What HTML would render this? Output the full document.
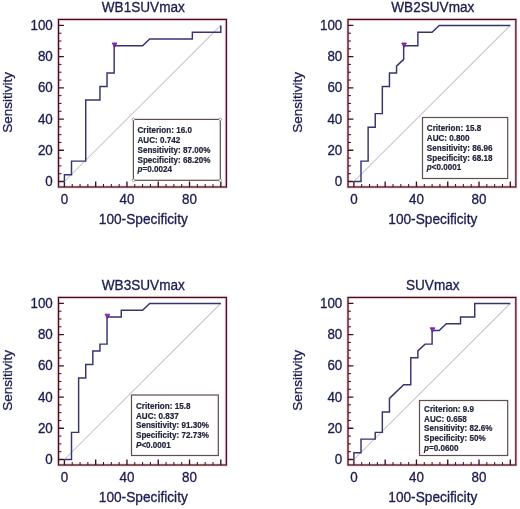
<!DOCTYPE html><html><head><meta charset="utf-8"><style>html,body{margin:0;padding:0;background:#fff;}svg{display:block;filter:blur(0.3px);}text{font-family:"Liberation Sans",sans-serif;}</style></head><body>
<svg width="520" height="509" viewBox="0 0 520 509">
<rect width="520" height="509" fill="#fff"/>
<g transform="translate(0,0)">
<rect x="58.5" y="19.45" width="167.85" height="167.55" fill="none" stroke="#f2d6dc" stroke-width="3.2"/>
<line x1="64.40" y1="181.50" x2="220.80" y2="25.40" stroke="#c2c2c8" stroke-width="1.05"/>
<path d="M58.50 181.50H63.90M64.40 187.00V181.60M58.50 150.28H63.90M95.68 187.00V181.60M58.50 119.06H63.90M126.96 187.00V181.60M58.50 87.84H63.90M158.24 187.00V181.60M58.50 56.62H63.90M189.52 187.00V181.60M58.50 25.40H63.90M220.80 187.00V181.60" stroke="#420e1c" stroke-width="1.35" fill="none"/>
<path d="M58.50 173.69H61.50M72.22 187.00V184.00M58.50 165.89H61.50M80.04 187.00V184.00M58.50 158.09H61.50M87.86 187.00V184.00M58.50 142.47H61.50M103.50 187.00V184.00M58.50 134.67H61.50M111.32 187.00V184.00M58.50 126.87H61.50M119.14 187.00V184.00M58.50 111.25H61.50M134.78 187.00V184.00M58.50 103.45H61.50M142.60 187.00V184.00M58.50 95.64H61.50M150.42 187.00V184.00M58.50 80.03H61.50M166.06 187.00V184.00M58.50 72.23H61.50M173.88 187.00V184.00M58.50 64.42H61.50M181.70 187.00V184.00M58.50 48.81H61.50M197.34 187.00V184.00M58.50 41.01H61.50M205.16 187.00V184.00M58.50 33.21H61.50M212.98 187.00V184.00" stroke="#420e1c" stroke-width="1.0" fill="none"/>
<rect x="58.5" y="19.45" width="167.85" height="167.55" fill="none" stroke="#420e1c" stroke-width="1.25"/>
</g>
<path d="M64.40 181.50 L64.40 174.71 L71.51 174.71 L71.51 161.14 L85.73 161.14 L85.73 100.06 L99.95 100.06 L99.95 86.48 L107.05 86.48 L107.05 72.91 L114.16 72.91 L114.16 45.76 L142.60 45.76 L149.71 38.97 L192.36 38.97 L192.36 32.19 L220.80 32.19 L220.80 25.40" stroke="#353370" stroke-width="1.45" fill="none" stroke-linejoin="miter"/>
<path d="M112.16 42.96H116.96L114.56 47.36Z" fill="#9a28d0" stroke="#5e1080" stroke-width="0.7" stroke-linejoin="round"/>
<rect x="133.4" y="119.4" width="86.90" height="60.90" fill="#fff" stroke="#5e4e4e" stroke-width="1.2"/>
<circle cx="133.4" cy="119.4" r="1.3" fill="#fff" stroke="#8a8080" stroke-width="0.7"/>
<circle cx="133.4" cy="180.3" r="1.3" fill="#fff" stroke="#8a8080" stroke-width="0.7"/>
<circle cx="220.3" cy="119.4" r="1.3" fill="#fff" stroke="#8a8080" stroke-width="0.7"/>
<circle cx="220.3" cy="180.3" r="1.3" fill="#fff" stroke="#8a8080" stroke-width="0.7"/>
<text transform="translate(137.50,133.20) scale(1,1.07)" font-size="8.1" font-weight="bold" fill="#22223a" stroke="#22223a" stroke-width="0.18">Criterion: 16.0</text>
<text transform="translate(137.50,142.98) scale(1,1.07)" font-size="8.1" font-weight="bold" fill="#22223a" stroke="#22223a" stroke-width="0.18">AUC: 0.742</text>
<text transform="translate(137.50,152.76) scale(1,1.07)" font-size="8.1" font-weight="bold" fill="#22223a" stroke="#22223a" stroke-width="0.18">Sensitivity: 87.00%</text>
<text transform="translate(137.50,162.54) scale(1,1.07)" font-size="8.1" font-weight="bold" fill="#22223a" stroke="#22223a" stroke-width="0.18">Specificity: 68.20%</text>
<text transform="translate(137.50,172.32) scale(1,1.07)" font-size="8.1" font-weight="bold" fill="#22223a" stroke="#22223a" stroke-width="0.18"><tspan font-style="italic">p</tspan>=0.0024</text>
<text transform="translate(143.30,12.00) scale(1,1.1)" font-size="13.6" fill="#1c1c52" stroke="#1c1c52" stroke-width="0.3" text-anchor="middle">WB1SUVmax</text>
<text transform="translate(64.40,203.80) scale(1,1.1)" font-size="13.4" fill="#1c1c52" stroke="#1c1c52" stroke-width="0.3" text-anchor="middle">0</text>
<text transform="translate(126.96,203.80) scale(1,1.1)" font-size="13.4" fill="#1c1c52" stroke="#1c1c52" stroke-width="0.3" text-anchor="middle">40</text>
<text transform="translate(189.52,203.80) scale(1,1.1)" font-size="13.4" fill="#1c1c52" stroke="#1c1c52" stroke-width="0.3" text-anchor="middle">80</text>
<text transform="translate(52.80,186.10) scale(1,1.1)" font-size="13.4" fill="#1c1c52" stroke="#1c1c52" stroke-width="0.3" text-anchor="end">0</text>
<text transform="translate(52.80,154.88) scale(1,1.1)" font-size="13.4" fill="#1c1c52" stroke="#1c1c52" stroke-width="0.3" text-anchor="end">20</text>
<text transform="translate(52.80,123.66) scale(1,1.1)" font-size="13.4" fill="#1c1c52" stroke="#1c1c52" stroke-width="0.3" text-anchor="end">40</text>
<text transform="translate(52.80,92.44) scale(1,1.1)" font-size="13.4" fill="#1c1c52" stroke="#1c1c52" stroke-width="0.3" text-anchor="end">60</text>
<text transform="translate(52.80,61.22) scale(1,1.1)" font-size="13.4" fill="#1c1c52" stroke="#1c1c52" stroke-width="0.3" text-anchor="end">80</text>
<text transform="translate(52.80,30.00) scale(1,1.1)" font-size="13.4" fill="#1c1c52" stroke="#1c1c52" stroke-width="0.3" text-anchor="end">100</text>
<text transform="translate(143.30,223.60) scale(1,1.1)" font-size="13.7" fill="#1c1c52" stroke="#1c1c52" stroke-width="0.3" text-anchor="middle">100-Specificity</text>
<text transform="translate(12.40,102.40) rotate(-90)" font-size="13.5" fill="#1c1c52" stroke="#1c1c52" stroke-width="0.3" text-anchor="middle">Sensitivity</text>
<g transform="translate(289.5,0)">
<rect x="58.5" y="19.45" width="167.85" height="167.55" fill="none" stroke="#f2d6dc" stroke-width="3.2"/>
<line x1="64.40" y1="181.50" x2="220.80" y2="25.40" stroke="#c2c2c8" stroke-width="1.05"/>
<path d="M58.50 181.50H63.90M64.40 187.00V181.60M58.50 150.28H63.90M95.68 187.00V181.60M58.50 119.06H63.90M126.96 187.00V181.60M58.50 87.84H63.90M158.24 187.00V181.60M58.50 56.62H63.90M189.52 187.00V181.60M58.50 25.40H63.90M220.80 187.00V181.60" stroke="#420e1c" stroke-width="1.35" fill="none"/>
<path d="M58.50 173.69H61.50M72.22 187.00V184.00M58.50 165.89H61.50M80.04 187.00V184.00M58.50 158.09H61.50M87.86 187.00V184.00M58.50 142.47H61.50M103.50 187.00V184.00M58.50 134.67H61.50M111.32 187.00V184.00M58.50 126.87H61.50M119.14 187.00V184.00M58.50 111.25H61.50M134.78 187.00V184.00M58.50 103.45H61.50M142.60 187.00V184.00M58.50 95.64H61.50M150.42 187.00V184.00M58.50 80.03H61.50M166.06 187.00V184.00M58.50 72.23H61.50M173.88 187.00V184.00M58.50 64.42H61.50M181.70 187.00V184.00M58.50 48.81H61.50M197.34 187.00V184.00M58.50 41.01H61.50M205.16 187.00V184.00M58.50 33.21H61.50M212.98 187.00V184.00" stroke="#420e1c" stroke-width="1.0" fill="none"/>
<rect x="58.5" y="19.45" width="167.85" height="167.55" fill="none" stroke="#420e1c" stroke-width="1.25"/>
</g>
<path d="M353.90 181.50 L361.01 181.50 L361.01 161.14 L368.12 161.14 L368.12 127.20 L375.23 127.20 L375.23 113.63 L382.34 113.63 L382.34 86.48 L389.45 86.48 L389.45 72.91 L396.55 72.91 L396.55 66.12 L403.66 59.33 L403.66 45.76 L417.88 45.76 L417.88 32.19 L432.10 32.19 L439.21 25.40 L510.30 25.40" stroke="#353370" stroke-width="1.45" fill="none" stroke-linejoin="miter"/>
<path d="M401.66 42.96H406.46L404.06 47.36Z" fill="#9a28d0" stroke="#5e1080" stroke-width="0.7" stroke-linejoin="round"/>
<rect x="422.5" y="117.5" width="85.20" height="61.00" fill="#fff" stroke="#5e4e4e" stroke-width="1.2"/>
<text transform="translate(426.80,131.30) scale(1,1.07)" font-size="8.1" font-weight="bold" fill="#22223a" stroke="#22223a" stroke-width="0.18">Criterion: 15.8</text>
<text transform="translate(426.80,141.08) scale(1,1.07)" font-size="8.1" font-weight="bold" fill="#22223a" stroke="#22223a" stroke-width="0.18">AUC: 0.800</text>
<text transform="translate(426.80,150.86) scale(1,1.07)" font-size="8.1" font-weight="bold" fill="#22223a" stroke="#22223a" stroke-width="0.18">Sensitivity: 86.96</text>
<text transform="translate(426.80,160.64) scale(1,1.07)" font-size="8.1" font-weight="bold" fill="#22223a" stroke="#22223a" stroke-width="0.18">Specificity: 68.18</text>
<text transform="translate(426.80,170.42) scale(1,1.07)" font-size="8.1" font-weight="bold" fill="#22223a" stroke="#22223a" stroke-width="0.18"><tspan font-style="italic">p</tspan>&lt;0.0001</text>
<text transform="translate(432.80,12.00) scale(1,1.1)" font-size="13.6" fill="#1c1c52" stroke="#1c1c52" stroke-width="0.3" text-anchor="middle">WB2SUVmax</text>
<text transform="translate(353.90,203.80) scale(1,1.1)" font-size="13.4" fill="#1c1c52" stroke="#1c1c52" stroke-width="0.3" text-anchor="middle">0</text>
<text transform="translate(416.46,203.80) scale(1,1.1)" font-size="13.4" fill="#1c1c52" stroke="#1c1c52" stroke-width="0.3" text-anchor="middle">40</text>
<text transform="translate(479.02,203.80) scale(1,1.1)" font-size="13.4" fill="#1c1c52" stroke="#1c1c52" stroke-width="0.3" text-anchor="middle">80</text>
<text transform="translate(342.30,186.10) scale(1,1.1)" font-size="13.4" fill="#1c1c52" stroke="#1c1c52" stroke-width="0.3" text-anchor="end">0</text>
<text transform="translate(342.30,154.88) scale(1,1.1)" font-size="13.4" fill="#1c1c52" stroke="#1c1c52" stroke-width="0.3" text-anchor="end">20</text>
<text transform="translate(342.30,123.66) scale(1,1.1)" font-size="13.4" fill="#1c1c52" stroke="#1c1c52" stroke-width="0.3" text-anchor="end">40</text>
<text transform="translate(342.30,92.44) scale(1,1.1)" font-size="13.4" fill="#1c1c52" stroke="#1c1c52" stroke-width="0.3" text-anchor="end">60</text>
<text transform="translate(342.30,61.22) scale(1,1.1)" font-size="13.4" fill="#1c1c52" stroke="#1c1c52" stroke-width="0.3" text-anchor="end">80</text>
<text transform="translate(342.30,30.00) scale(1,1.1)" font-size="13.4" fill="#1c1c52" stroke="#1c1c52" stroke-width="0.3" text-anchor="end">100</text>
<text transform="translate(432.80,223.60) scale(1,1.1)" font-size="13.7" fill="#1c1c52" stroke="#1c1c52" stroke-width="0.3" text-anchor="middle">100-Specificity</text>
<text transform="translate(301.90,102.40) rotate(-90)" font-size="13.5" fill="#1c1c52" stroke="#1c1c52" stroke-width="0.3" text-anchor="middle">Sensitivity</text>
<g transform="translate(0,278)">
<rect x="58.5" y="19.45" width="167.85" height="167.55" fill="none" stroke="#f2d6dc" stroke-width="3.2"/>
<line x1="64.40" y1="181.50" x2="220.80" y2="25.40" stroke="#c2c2c8" stroke-width="1.05"/>
<path d="M58.50 181.50H63.90M64.40 187.00V181.60M58.50 150.28H63.90M95.68 187.00V181.60M58.50 119.06H63.90M126.96 187.00V181.60M58.50 87.84H63.90M158.24 187.00V181.60M58.50 56.62H63.90M189.52 187.00V181.60M58.50 25.40H63.90M220.80 187.00V181.60" stroke="#420e1c" stroke-width="1.35" fill="none"/>
<path d="M58.50 173.69H61.50M72.22 187.00V184.00M58.50 165.89H61.50M80.04 187.00V184.00M58.50 158.09H61.50M87.86 187.00V184.00M58.50 142.47H61.50M103.50 187.00V184.00M58.50 134.67H61.50M111.32 187.00V184.00M58.50 126.87H61.50M119.14 187.00V184.00M58.50 111.25H61.50M134.78 187.00V184.00M58.50 103.45H61.50M142.60 187.00V184.00M58.50 95.64H61.50M150.42 187.00V184.00M58.50 80.03H61.50M166.06 187.00V184.00M58.50 72.23H61.50M173.88 187.00V184.00M58.50 64.42H61.50M181.70 187.00V184.00M58.50 48.81H61.50M197.34 187.00V184.00M58.50 41.01H61.50M205.16 187.00V184.00M58.50 33.21H61.50M212.98 187.00V184.00" stroke="#420e1c" stroke-width="1.0" fill="none"/>
<rect x="58.5" y="19.45" width="167.85" height="167.55" fill="none" stroke="#420e1c" stroke-width="1.25"/>
</g>
<path d="M64.40 459.50 L71.51 459.50 L71.51 432.35 L78.62 432.35 L78.62 378.06 L85.73 378.06 L85.73 364.48 L92.84 364.48 L92.84 350.91 L99.95 350.91 L99.95 344.12 L107.05 344.12 L107.05 316.97 L121.27 316.97 L121.27 310.19 L142.60 310.19 L149.71 303.40 L220.80 303.40" stroke="#353370" stroke-width="1.45" fill="none" stroke-linejoin="miter"/>
<path d="M105.05 314.17H109.85L107.45 318.57Z" fill="#9a28d0" stroke="#5e1080" stroke-width="0.7" stroke-linejoin="round"/>
<rect x="131.5" y="395.0" width="86.80" height="60.50" fill="#fff" stroke="#5e4e4e" stroke-width="1.2"/>
<text transform="translate(136.00,408.90) scale(1,1.07)" font-size="8.1" font-weight="bold" fill="#22223a" stroke="#22223a" stroke-width="0.18">Criterion: 15.8</text>
<text transform="translate(136.00,418.68) scale(1,1.07)" font-size="8.1" font-weight="bold" fill="#22223a" stroke="#22223a" stroke-width="0.18">AUC: 0.837</text>
<text transform="translate(136.00,428.46) scale(1,1.07)" font-size="8.1" font-weight="bold" fill="#22223a" stroke="#22223a" stroke-width="0.18">Sensitivity: 91.30%</text>
<text transform="translate(136.00,438.24) scale(1,1.07)" font-size="8.1" font-weight="bold" fill="#22223a" stroke="#22223a" stroke-width="0.18">Specificity: 72.73%</text>
<text transform="translate(136.00,448.02) scale(1,1.07)" font-size="8.1" font-weight="bold" fill="#22223a" stroke="#22223a" stroke-width="0.18"><tspan font-style="italic">P</tspan>&lt;0.0001</text>
<text transform="translate(143.30,290.00) scale(1,1.1)" font-size="13.6" fill="#1c1c52" stroke="#1c1c52" stroke-width="0.3" text-anchor="middle">WB3SUVmax</text>
<text transform="translate(64.40,481.80) scale(1,1.1)" font-size="13.4" fill="#1c1c52" stroke="#1c1c52" stroke-width="0.3" text-anchor="middle">0</text>
<text transform="translate(126.96,481.80) scale(1,1.1)" font-size="13.4" fill="#1c1c52" stroke="#1c1c52" stroke-width="0.3" text-anchor="middle">40</text>
<text transform="translate(189.52,481.80) scale(1,1.1)" font-size="13.4" fill="#1c1c52" stroke="#1c1c52" stroke-width="0.3" text-anchor="middle">80</text>
<text transform="translate(52.80,464.10) scale(1,1.1)" font-size="13.4" fill="#1c1c52" stroke="#1c1c52" stroke-width="0.3" text-anchor="end">0</text>
<text transform="translate(52.80,432.88) scale(1,1.1)" font-size="13.4" fill="#1c1c52" stroke="#1c1c52" stroke-width="0.3" text-anchor="end">20</text>
<text transform="translate(52.80,401.66) scale(1,1.1)" font-size="13.4" fill="#1c1c52" stroke="#1c1c52" stroke-width="0.3" text-anchor="end">40</text>
<text transform="translate(52.80,370.44) scale(1,1.1)" font-size="13.4" fill="#1c1c52" stroke="#1c1c52" stroke-width="0.3" text-anchor="end">60</text>
<text transform="translate(52.80,339.22) scale(1,1.1)" font-size="13.4" fill="#1c1c52" stroke="#1c1c52" stroke-width="0.3" text-anchor="end">80</text>
<text transform="translate(52.80,308.00) scale(1,1.1)" font-size="13.4" fill="#1c1c52" stroke="#1c1c52" stroke-width="0.3" text-anchor="end">100</text>
<text transform="translate(143.30,501.60) scale(1,1.1)" font-size="13.7" fill="#1c1c52" stroke="#1c1c52" stroke-width="0.3" text-anchor="middle">100-Specificity</text>
<text transform="translate(12.40,380.40) rotate(-90)" font-size="13.5" fill="#1c1c52" stroke="#1c1c52" stroke-width="0.3" text-anchor="middle">Sensitivity</text>
<g transform="translate(289.5,278)">
<rect x="58.5" y="19.45" width="167.85" height="167.55" fill="none" stroke="#f2d6dc" stroke-width="3.2"/>
<line x1="64.40" y1="181.50" x2="220.80" y2="25.40" stroke="#c2c2c8" stroke-width="1.05"/>
<path d="M58.50 181.50H63.90M64.40 187.00V181.60M58.50 150.28H63.90M95.68 187.00V181.60M58.50 119.06H63.90M126.96 187.00V181.60M58.50 87.84H63.90M158.24 187.00V181.60M58.50 56.62H63.90M189.52 187.00V181.60M58.50 25.40H63.90M220.80 187.00V181.60" stroke="#420e1c" stroke-width="1.35" fill="none"/>
<path d="M58.50 173.69H61.50M72.22 187.00V184.00M58.50 165.89H61.50M80.04 187.00V184.00M58.50 158.09H61.50M87.86 187.00V184.00M58.50 142.47H61.50M103.50 187.00V184.00M58.50 134.67H61.50M111.32 187.00V184.00M58.50 126.87H61.50M119.14 187.00V184.00M58.50 111.25H61.50M134.78 187.00V184.00M58.50 103.45H61.50M142.60 187.00V184.00M58.50 95.64H61.50M150.42 187.00V184.00M58.50 80.03H61.50M166.06 187.00V184.00M58.50 72.23H61.50M173.88 187.00V184.00M58.50 64.42H61.50M181.70 187.00V184.00M58.50 48.81H61.50M197.34 187.00V184.00M58.50 41.01H61.50M205.16 187.00V184.00M58.50 33.21H61.50M212.98 187.00V184.00" stroke="#420e1c" stroke-width="1.0" fill="none"/>
<rect x="58.5" y="19.45" width="167.85" height="167.55" fill="none" stroke="#420e1c" stroke-width="1.25"/>
</g>
<path d="M353.90 459.50 L353.90 452.71 L361.01 452.71 L361.01 439.14 L375.23 439.14 L375.23 432.35 L382.34 432.35 L382.34 411.99 L389.45 411.99 L389.45 398.42 L403.66 384.84 L410.77 384.84 L410.77 357.70 L417.88 357.70 L417.88 350.91 L424.99 344.12 L432.10 344.12 L432.10 330.55 L439.21 330.55 L446.32 323.76 L460.54 323.76 L460.54 316.97 L474.75 316.97 L474.75 303.40 L510.30 303.40" stroke="#353370" stroke-width="1.45" fill="none" stroke-linejoin="miter"/>
<path d="M430.10 327.75H434.90L432.50 332.15Z" fill="#9a28d0" stroke="#5e1080" stroke-width="0.7" stroke-linejoin="round"/>
<rect x="419.5" y="400.5" width="88.20" height="55.00" fill="#fff" stroke="#5e4e4e" stroke-width="1.2"/>
<text transform="translate(424.10,411.90) scale(1,1.07)" font-size="8.1" font-weight="bold" fill="#22223a" stroke="#22223a" stroke-width="0.18">Criterion: 9.9</text>
<text transform="translate(424.10,421.68) scale(1,1.07)" font-size="8.1" font-weight="bold" fill="#22223a" stroke="#22223a" stroke-width="0.18">AUC: 0.658</text>
<text transform="translate(424.10,431.46) scale(1,1.07)" font-size="8.1" font-weight="bold" fill="#22223a" stroke="#22223a" stroke-width="0.18">Sensitivity: 82.6%</text>
<text transform="translate(424.10,441.24) scale(1,1.07)" font-size="8.1" font-weight="bold" fill="#22223a" stroke="#22223a" stroke-width="0.18">Specificity: 50%</text>
<text transform="translate(424.10,451.02) scale(1,1.07)" font-size="8.1" font-weight="bold" fill="#22223a" stroke="#22223a" stroke-width="0.18"><tspan font-style="italic">p</tspan>=0.0600</text>
<text transform="translate(432.80,290.00) scale(1,1.1)" font-size="13.6" fill="#1c1c52" stroke="#1c1c52" stroke-width="0.3" text-anchor="middle">SUVmax</text>
<text transform="translate(353.90,481.80) scale(1,1.1)" font-size="13.4" fill="#1c1c52" stroke="#1c1c52" stroke-width="0.3" text-anchor="middle">0</text>
<text transform="translate(416.46,481.80) scale(1,1.1)" font-size="13.4" fill="#1c1c52" stroke="#1c1c52" stroke-width="0.3" text-anchor="middle">40</text>
<text transform="translate(479.02,481.80) scale(1,1.1)" font-size="13.4" fill="#1c1c52" stroke="#1c1c52" stroke-width="0.3" text-anchor="middle">80</text>
<text transform="translate(342.30,464.10) scale(1,1.1)" font-size="13.4" fill="#1c1c52" stroke="#1c1c52" stroke-width="0.3" text-anchor="end">0</text>
<text transform="translate(342.30,432.88) scale(1,1.1)" font-size="13.4" fill="#1c1c52" stroke="#1c1c52" stroke-width="0.3" text-anchor="end">20</text>
<text transform="translate(342.30,401.66) scale(1,1.1)" font-size="13.4" fill="#1c1c52" stroke="#1c1c52" stroke-width="0.3" text-anchor="end">40</text>
<text transform="translate(342.30,370.44) scale(1,1.1)" font-size="13.4" fill="#1c1c52" stroke="#1c1c52" stroke-width="0.3" text-anchor="end">60</text>
<text transform="translate(342.30,339.22) scale(1,1.1)" font-size="13.4" fill="#1c1c52" stroke="#1c1c52" stroke-width="0.3" text-anchor="end">80</text>
<text transform="translate(342.30,308.00) scale(1,1.1)" font-size="13.4" fill="#1c1c52" stroke="#1c1c52" stroke-width="0.3" text-anchor="end">100</text>
<text transform="translate(432.80,501.60) scale(1,1.1)" font-size="13.7" fill="#1c1c52" stroke="#1c1c52" stroke-width="0.3" text-anchor="middle">100-Specificity</text>
<text transform="translate(301.90,380.40) rotate(-90)" font-size="13.5" fill="#1c1c52" stroke="#1c1c52" stroke-width="0.3" text-anchor="middle">Sensitivity</text>
</svg></body></html>
